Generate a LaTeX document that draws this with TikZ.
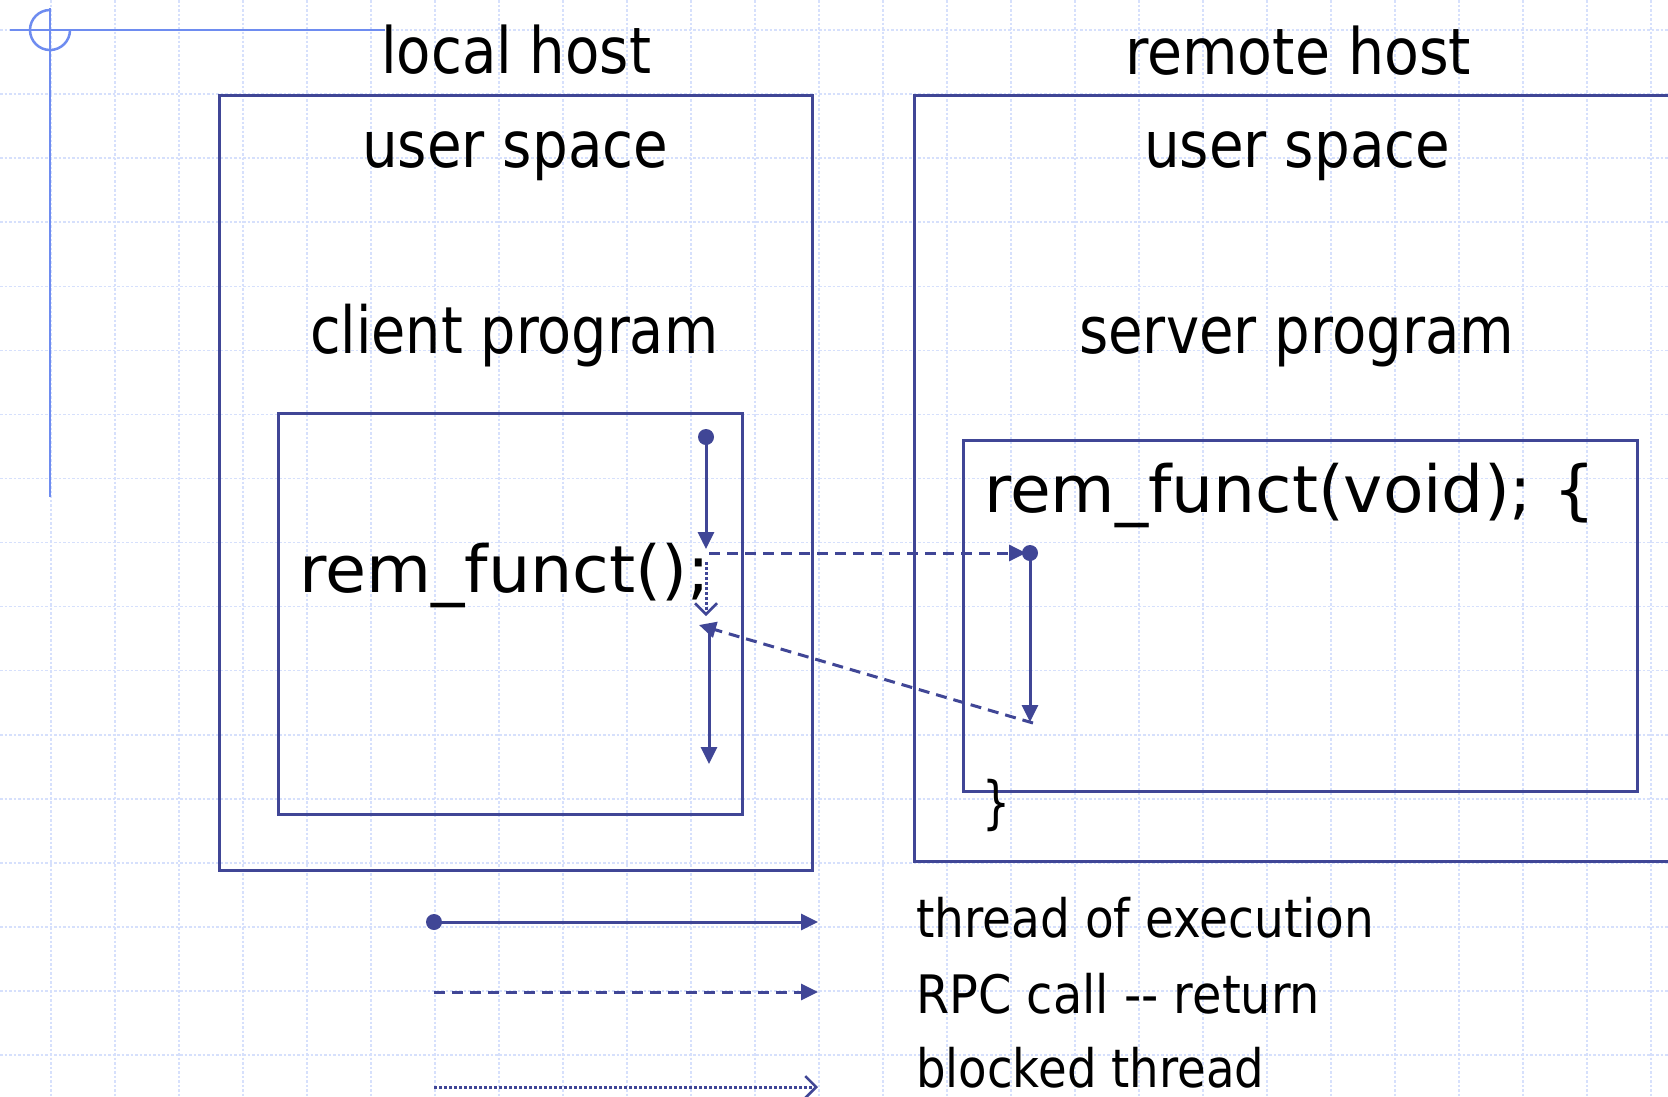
\documentclass[tikz,border=0pt]{standalone}
\usepackage{fontspec}
\setmainfont{DejaVu Sans}
\usetikzlibrary{arrows.meta}

\definecolor{navy}{RGB}{64,70,150}
\definecolor{gridblue}{RGB}{214,224,252}
\definecolor{markblue}{RGB}{110,140,240}

% set #3 at font size #1 and squeeze it horizontally to width #2 (pt)
\newlength\fitlen
\newcommand\fitto[3]{%
  \fontsize{#1}{#1}\selectfont
  \settowidth\fitlen{#3}%
  \pgfmathsetmacro\fitratio{#2/\fitlen}%
  \scalebox{\fitratio}[1]{#3}}

\tikzset{
  lbl/.style={inner sep=0pt, anchor=base west, text=black},
  box/.style={draw=navy, line width=3pt},
  thread/.style={draw=navy, line width=3pt, -{Triangle[length=17pt,width=16pt]}},
  rpc/.style={thread, dash pattern=on 11pt off 7pt},
  blocked/.style={draw=navy, line width=3pt, dash pattern=on 3pt off 2pt,
    -{Straight Barb[length=11pt,width=22pt,line width=2.5pt]}},
  dot/.style={circle, fill=navy, inner sep=0pt, minimum size=16pt},
  gridline/.style={draw=gridblue, line width=1.5pt, dash pattern=on 2.5pt off 2pt},
  marker/.style={draw=markblue, line width=2.5pt},
}

\begin{document}
\begin{tikzpicture}[x=1pt, y=-1pt]
  \useasboundingbox (0,0) rectangle (1668,1096);
  \fill[white] (0,0) rectangle (1668,1096);

  % background grid
  \foreach \i in {0,...,25} \draw[gridline] (51+64*\i,0) -- (51+64*\i,1096);
  \foreach \j in {0,...,16} \draw[gridline] (0,30+64.07*\j) -- (1668,30+64.07*\j);

  % corner marker
  \draw[marker] (10,30) -- (385,30);
  \draw[marker] (50,8) -- (50,497);
  \draw[marker] (50,10) arc[start angle=270, end angle=0, radius=20];

  % hosts and programs
  \draw[box] (219,95) rectangle (812,870);
  \draw[box] (1675,95) -- (914,95) -- (914,861) -- (1675,861);
  \draw[box] (278,413) rectangle (742,814);
  \draw[box] (963,440) rectangle (1637,791);

  % headings
  \node[lbl] (lhost) at (381,73) {\fitto{64}{270}{local host}};
  \node[lbl] (rhost) at (1125,74) {\fitto{64}{346}{remote host}};
  \node[lbl] (luser) at (362,167) {\fitto{64}{306}{user space}};
  \node[lbl] (ruser) at (1144,167) {\fitto{64}{306}{user space}};
  \node[lbl] (cprog) at (310,353) {\fitto{65}{408}{client program}};
  \node[lbl] (sprog) at (1079,353) {\fitto{65}{435}{server program}};

  % code
  \node[lbl] (call) at (299,592) {\fitto{65}{411}{rem\_funct();}};
  \node[lbl] (proc) at (984,512) {\fitto{65}{611}{rem\_funct(void); \{}};
  \node[lbl] (pend) at (982,822) {\fitto{57}{28}{\}}};

  % execution flow
  \node[dot] (c0) at (706,437) {};
  \coordinate (c1) at (706,549);
  \coordinate (cs) at (709,553);
  \node[dot] (s0) at (1030,553) {};
  \coordinate (s0w) at (1026,553);
  \coordinate (s1) at (1030,722);
  \coordinate (s1r) at (1033,723);
  \coordinate (cr) at (699,625);
  \coordinate (b0) at (706,562);
  \coordinate (b1) at (706,616);
  \coordinate (c2) at (709,631);
  \coordinate (c3) at (709,764);

  \draw[thread] (c0.center) -- (c1);
  \draw[rpc] (cs) -- (s0w);
  \draw[thread] (s0.center) -- (s1);
  \draw[rpc] (s1r) -- (cr);
  \draw[blocked] (b0) -- (b1);
  \draw[thread] (c2) -- (c3);

  % legend
  \node[dot] (k1) at (434,922) {};
  \coordinate (k1e) at (818,922);
  \coordinate (k2) at (434,992);
  \coordinate (k2e) at (818,992);
  \coordinate (k3) at (434,1087);
  \coordinate (k3e) at (818,1087);
  \draw[thread] (k1.center) -- (k1e);
  \draw[rpc] (k2) -- (k2e);
  \draw[blocked] (k3) -- (k3e);

  \node[lbl] (t1) at (916,937) {\fitto{53}{458}{thread of execution}};
  \node[lbl] (t2) at (916,1013) {\fitto{53}{404}{RPC call -{}- return}};
  \node[lbl] (t3) at (916,1087) {\fitto{53}{348}{blocked thread}};
\end{tikzpicture}
\end{document}
